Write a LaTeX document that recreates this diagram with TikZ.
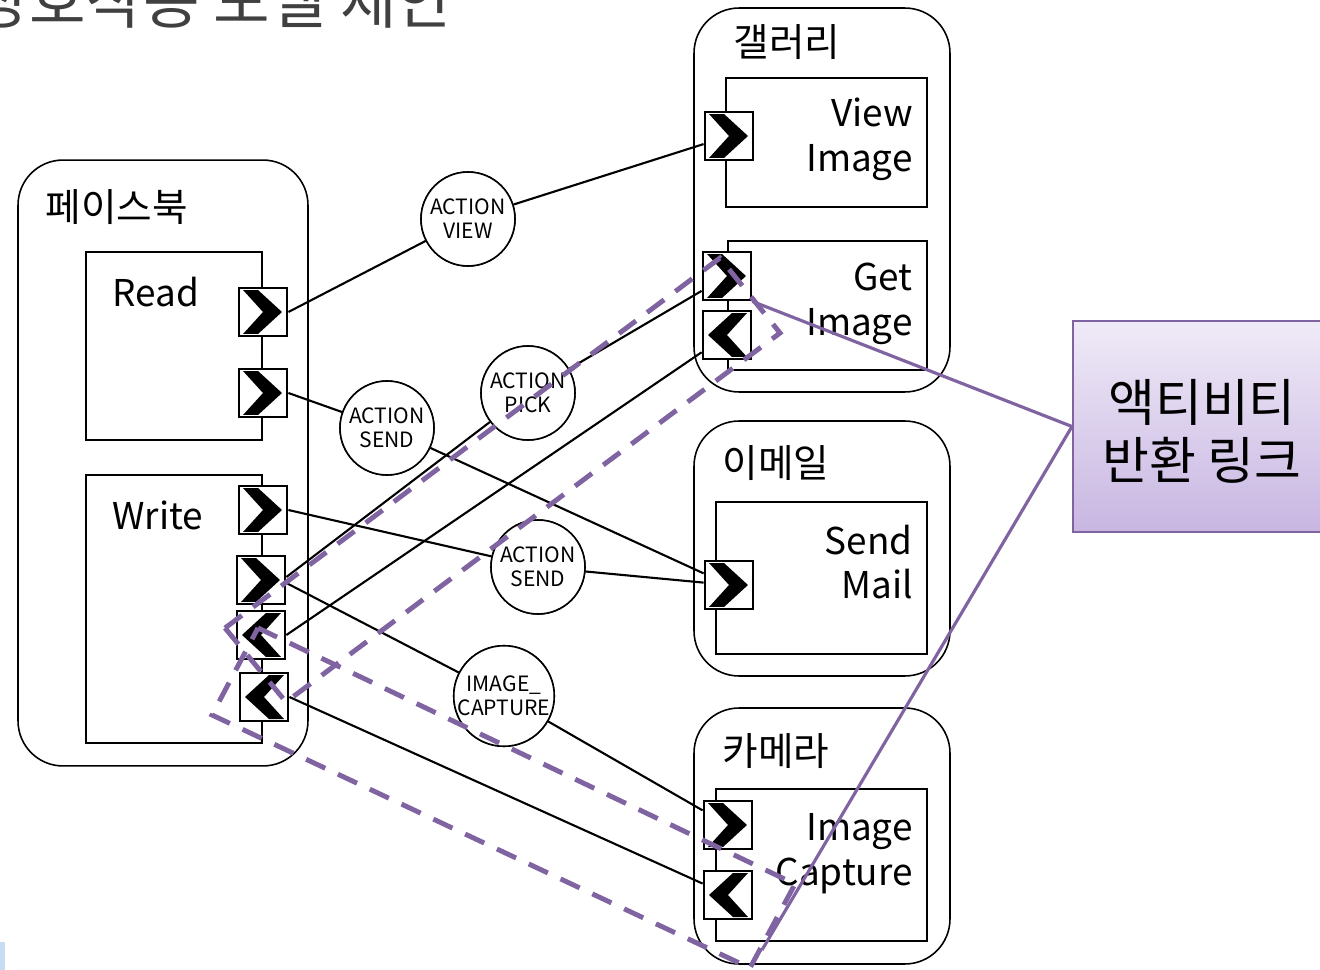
\documentclass[tikz,border=0pt]{standalone}
\usepackage{fontspec}
\setmainfont{Noto Sans CJK KR}
\usetikzlibrary{calc}
\definecolor{pur}{HTML}{8064A2}
\definecolor{titlegray}{HTML}{404040}
\definecolor{caltop}{HTML}{EFEAF7}
\definecolor{calbot}{HTML}{C8B6E2}
\definecolor{markblue}{HTML}{C6DCF2}
\begin{document}
\begin{tikzpicture}[x=0.02cm,y=-0.02cm,
  cont/.style={draw, line width=0.9pt, rounded corners=0.9cm, inner sep=0pt},
  inbox/.style={draw, line width=1.1pt, inner sep=0pt},
  lbl/.style={font=\fontsize{21}{25.5}\selectfont, inner sep=0pt},
  klbl/.style={font=\fontsize{22}{26}\selectfont, inner sep=0pt},
  port/.style={draw, line width=1.6pt, fill=white, minimum width=0.96cm, minimum height=0.96cm, inner sep=0pt},
  portR/.style={port, path picture={\fill[black] ([shift={(-0.4cm,0.44cm)}]path picture bounding box.center) -- ++(0.3cm,0cm) -- ++(0.48cm,-0.44cm) -- ++(-0.48cm,-0.44cm) -- ++(-0.3cm,0cm) -- ++(0.4cm,0.44cm) -- cycle;}},
  portL/.style={port, path picture={\fill[black] ([shift={(0.4cm,0.44cm)}]path picture bounding box.center) -- ++(-0.3cm,0cm) -- ++(-0.48cm,-0.44cm) -- ++(0.48cm,-0.44cm) -- ++(0.3cm,0cm) -- ++(-0.4cm,0.44cm) -- cycle;}},
  circ/.style={circle, draw, line width=0.9pt, fill=white, minimum size=1.88cm, inner sep=0pt, align=center, font=\fontsize{12}{13.6}\selectfont},
  conn/.style={draw, line width=1.2pt},
  dashpur/.style={draw=pur, line width=2.8pt, dash pattern=on 12pt off 8pt},
  calline/.style={draw=pur, line width=1.8pt}]
\useasboundingbox (0,0) rectangle (1320,970);
\clip (0,0) rectangle (1320,970);

% title (cut off at top, as in the reference)
\node[anchor=base west, text=titlegray, inner sep=0pt, font=\fontsize{35}{35}\selectfont] (title) at (-27,24) {상호작용 모델 제안};
\fill[markblue] (0,942) rectangle (5,970);

% containers
\node[cont, minimum width=5.8cm, minimum height=12.12cm] (fb) at (163,463) {};
\node[cont, minimum width=5.12cm, minimum height=7.68cm] (gal) at (822,200) {};
\node[cont, minimum width=5.12cm, minimum height=5.1cm] (mail) at (822,548.5) {};
\node[cont, minimum width=5.12cm, minimum height=5.12cm] (cam) at (822,836) {};

\node[klbl] (tfb) at (117,207) {페이스북};
\node[klbl] (tgal) at (787,42) {갤러리};
\node[klbl] (tmail) at (776,463) {이메일};
\node[klbl] (tcam) at (776,751) {카메라};

% inner boxes
\node[inbox, minimum width=3.52cm, minimum height=3.76cm] (read) at (174,346) {};
\node[inbox, minimum width=3.52cm, minimum height=5.36cm] (write) at (174,609) {};
\node[inbox, minimum width=4.02cm, minimum height=2.58cm] (view) at (826.5,142.5) {};
\node[inbox, minimum width=3.98cm, minimum height=2.58cm] (get) at (827.5,305.5) {};
\node[inbox, minimum width=4.22cm, minimum height=3.04cm] (send) at (821.5,578) {};
\node[inbox, minimum width=4.22cm, minimum height=3.04cm] (capt) at (821.5,865) {};

\node[lbl, anchor=west] (tread) at (112,292) {Read};
\node[lbl, anchor=west] (twrite) at (112,515) {Write};
\node[lbl, anchor=east, align=right] (tview) at (913,139) {View\\Image};
\node[lbl, anchor=east, align=right] (tget) at (913,304) {Get\\Image};
\node[lbl, anchor=east, align=right] (tsend) at (913,562) {Send\\Mail};
\node[lbl, anchor=east, align=right] (tcapt) at (913,854) {Image\\Capture};

% circles
\node[circ] (cview) at (468,219) {ACTION\\VIEW};
\node[circ] (csend1) at (387,428) {ACTION\\SEND};
\node[circ] (cpick) at (528,393) {ACTION\\PICK};
\node[circ] (csend2) at (538,567) {ACTION\\SEND};
\node[circ] (ccap) at (504,696) {IMAGE\_\\CAPTURE};

% ports
\node[portR] (rp1) at (263,312) {};
\node[portR] (rp2) at (263,393) {};
\node[portR] (wp1) at (263,510) {};
\node[portR] (wp2) at (261,580) {};
\node[portL] (wp3) at (261,635) {};
\node[portL] (wp4) at (264,697) {};
\node[portR] (gv) at (729,136) {};
\node[portR] (gp1) at (727,276) {};
\node[portL] (gp2) at (727,335) {};
\node[portR] (sp) at (729,585) {};
\node[portR] (cp1) at (728,825) {};
\node[portL] (cp2) at (728,895) {};

% connectors
\draw[conn] (rp1.east) -- (cview) -- (gv);
\draw[conn] (rp2.east) -- (csend1) -- (sp);
\draw[conn] (wp1.east) -- (csend2) -- (sp);
\draw[conn] ([yshift=0.06cm]wp2.east) -- (cpick) -- (gp1);
\draw[conn] (gp2) -- (wp3.east);
\draw[conn] ([yshift=-0.06cm]wp2.east) -- (ccap) -- (cp1);
\draw[conn] (cp2) -- (wp4.east);

% redraw circles on top of line ends
\node[circ] at (cview) {ACTION\\VIEW};
\node[circ] at (csend1) {ACTION\\SEND};
\node[circ] at (cpick) {ACTION\\PICK};
\node[circ] at (csend2) {ACTION\\SEND};
\node[circ] at (ccap) {IMAGE\_\\CAPTURE};

% dashed return-link loops
\coordinate (a1) at (225,628);
\coordinate (a2) at (720,258);
\coordinate (a3) at (780,333);
\coordinate (a4) at (286,702);
\draw[dashpur] (a1) -- (a2) -- (a3) -- (a4) -- cycle;
\coordinate (b1) at (258,628);
\coordinate (b2) at (795,884);
\coordinate (b3) at (750,968);
\coordinate (b4) at (212,715);
\draw[dashpur] (b1) -- (b2) -- (b3) -- (b4) -- cycle;

% callout
\node[draw=pur, line width=1.2pt, top color=caltop, bottom color=calbot, minimum width=5.34cm, minimum height=4.22cm, inner sep=0pt] (call) at (1206.5,426.5) {};
\node[font=\fontsize{29}{33}\selectfont, align=center, inner sep=0pt] (tcall) at (1202,431) {액티비티\\반환 링크};
\coordinate (ce) at (762,950);
\draw[calline] (call.west) -- (gp1.south east);
\draw[calline] (call.west) -- (ce);
\end{tikzpicture}
\end{document}
